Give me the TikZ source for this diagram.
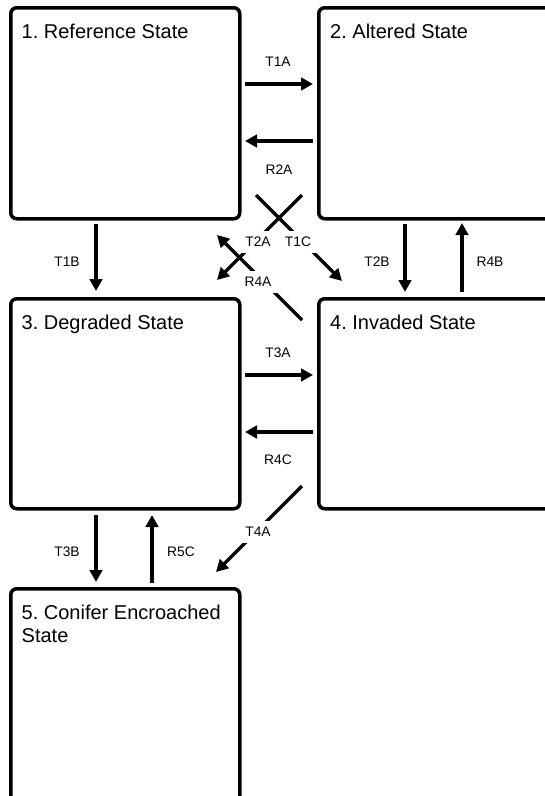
\documentclass[tikz,border=0pt]{standalone}
\usepackage{fontspec}
\setmainfont{Liberation Sans}
\usetikzlibrary{arrows.meta}
\frenchspacing
\begin{document}
\begin{tikzpicture}[x=1pt,y=-1pt,
  statebox/.style={draw, line width=3.5pt, rounded corners=6pt, minimum width=229pt, minimum height=211pt, anchor=north west, inner sep=0pt},
  title/.style={anchor=base west, font=\fontsize{20}{23}\selectfont, inner sep=0pt, align=left},
  arr/.style={line width=3.3pt, -{Triangle[length=12pt,width=12.5pt]}},
  lab/.style={font=\fontsize{13.8}{16}\selectfont, inner sep=0pt},
  dlab/.style={lab, fill=white, inner sep=6pt}]
\useasboundingbox (0,0) rectangle (545,796);
\clip (0,0) rectangle (545,796);
\fill[white] (0,0) rectangle (545,796);
% state boxes
\node[statebox] (s1) at (9,6) {};
\node[statebox, minimum width=245pt] (s2) at (317,6) {};
\node[statebox, minimum height=210pt] (s3) at (9,297) {};
\node[statebox, minimum width=245pt, minimum height=210pt] (s4) at (317,297) {};
\node[statebox, minimum height=240pt] (s5) at (9,587) {};
% titles
\node[title] (n1) at (21.5,38) {1. Reference State};
\node[title] (n2) at (330,38) {2. Altered State};
\node[title] (n3) at (21.5,329) {3. Degraded State};
\node[title] (n4) at (330,329) {4. Invaded State};
\node[title] (n5) at (21.5,642) {5. Conifer Encroached\\State};
% connector ends
\coordinate (t1a0) at (245,84);  \coordinate (t1a1) at (313,84);
\coordinate (r2a0) at (313,141); \coordinate (r2a1) at (245,141);
\coordinate (t3a0) at (245,375); \coordinate (t3a1) at (313,375);
\coordinate (r4c0) at (313,432); \coordinate (r4c1) at (245,432);
\coordinate (t1b0) at (96,224);  \coordinate (t1b1) at (96,291);
\coordinate (t3b0) at (96,515);  \coordinate (t3b1) at (96,582);
\coordinate (r5c0) at (152,583); \coordinate (r5c1) at (152,515);
\coordinate (t2b0) at (405,224); \coordinate (t2b1) at (405,292);
\coordinate (r4b0) at (462,292); \coordinate (r4b1) at (462,223);
\coordinate (t1c0) at (256,195); \coordinate (t1c1) at (342,281);
\coordinate (t2a0) at (302,195); \coordinate (t2a1) at (217,280);
\coordinate (r4a0) at (302,320); \coordinate (r4a1) at (217,235);
\coordinate (t4a0) at (302,486); \coordinate (t4a1) at (216,572);
% connectors
\draw[arr] (t1a0) -- (t1a1);
\draw[arr] (r2a0) -- (r2a1);
\draw[arr] (t3a0) -- (t3a1);
\draw[arr] (r4c0) -- (r4c1);
\draw[arr] (t1b0) -- (t1b1);
\draw[arr] (t3b0) -- (t3b1);
\draw[arr] (r5c0) -- (r5c1);
\draw[arr] (t2b0) -- (t2b1);
\draw[arr] (r4b0) -- (r4b1);
\draw[arr] (t1c0) -- (t1c1);
\draw[arr] (t2a0) -- (t2a1);
\draw[arr] (r4a0) -- (r4a1);
\draw[arr] (t4a0) -- (t4a1);
% labels
\node[lab] (lt1a) at (278,62) {T1A};
\node[lab] (lr2a) at (279,170) {R2A};
\node[lab] (lt3a) at (278,353) {T3A};
\node[lab] (lr4c) at (278,460) {R4C};
\node[lab] (lt1b) at (67,262) {T1B};
\node[lab] (lt3b) at (67,552) {T3B};
\node[lab] (lr5c) at (181,552) {R5C};
\node[lab] (lt2b) at (377,262) {T2B};
\node[lab] (lr4b) at (490,262) {R4B};
\node[dlab] (lt1c) at (298,242) {T1C};
\node[dlab] (lt2a) at (258,242) {T2A};
\node[dlab] (lr4a) at (258,282) {R4A};
\node[dlab] (lt4a) at (258,532) {T4A};
\end{tikzpicture}
\end{document}
